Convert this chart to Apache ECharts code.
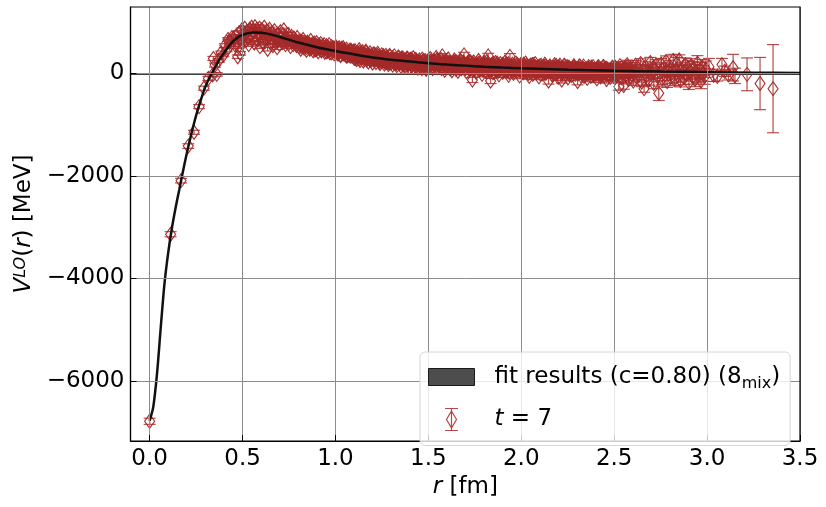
<!DOCTYPE html>
<html>
<head>
<meta charset="utf-8">
<script src="https://cdn.jsdelivr.net/npm/echarts@6/dist/echarts.min.js"></script>
<style>
  html, body { margin: 0; padding: 0; background: #fff; }
  #chart { width: 826px; height: 507px; }
</style>
</head>
<body>
<div id="chart"></div>
<script>
// tick positions
const xTicks = [0, 0.5, 1.0, 1.5, 2.0, 2.5, 3.0, 3.5];
const yTicks = [-6000, -4000, -2000, 0];

// fit curve (r [fm], V [MeV])
const rFit = [0.00, 0.02, 0.04, 0.06, 0.08, 0.10, 0.12, 0.14, 0.16, 0.18, 0.20, 0.22, 0.24, 0.26, 0.28,
  0.30, 0.32, 0.34, 0.36, 0.38, 0.40, 0.42, 0.44, 0.46, 0.48, 0.50, 0.53, 0.56, 0.60, 0.65, 0.70,
  0.75, 0.80, 0.90, 1.00, 1.10, 1.20, 1.30, 1.40, 1.50, 1.60, 1.70, 1.80, 1.90, 2.00, 2.25, 2.50,
  2.75, 3.00, 3.25, 3.50];
const vFit = [-6780, -6500, -5850, -4950, -4100, -3500, -3020, -2620, -2260, -1900, -1560, -1250, -960, -700, -470,
  -260, -100, 40, 170, 290, 400, 500, 590, 660, 715, 750, 780, 795, 790, 760, 710,
  655, 600, 510, 435, 370, 310, 265, 230, 195, 170, 150, 130, 112, 98, 70, 50,
  35, 22, 12, 5];

// t = 7 lattice data: [r, V, error]
const t7Points = [
  [0.000,-6790,60],[0.113,-3140,50],[0.169,-2095,45],[0.208,-1420,45],[0.239,-1150,40],[0.266,-650,40],
  [0.292,-290,40],[0.316,-100,40],[0.339,-30,40],[0.343,290,40],[0.352,160,40],[0.361,-20,35],
  [0.372,250,35],[0.385,400,35],[0.397,357,35],[0.405,540,35],[0.415,455,35],[0.422,660,35],
  [0.429,617,35],[0.436,560,35],[0.443,700,35],[0.450,683,35],[0.474,324,35],
  // 0.45 - 0.8
  [0.458,560,35],[0.463,720,35],[0.470,610,30],[0.477,520,35],[0.481,790,40],[0.487,390,35],
  [0.492,680,30],[0.496,845,40],[0.501,600,35],[0.507,750,30],[0.512,880,40],[0.518,640,35],
  [0.523,812,35],[0.528,700,30],[0.533,560,35],[0.538,860,40],[0.544,760,30],[0.549,900,40],
  [0.553,680,35],[0.558,830,35],[0.563,590,30],[0.567,910,40],[0.572,740,35],[0.577,860,35],
  [0.582,650,30],[0.586,800,35],[0.591,880,40],[0.594,520,35],[0.599,720,30],[0.604,850,35],
  [0.609,620,35],[0.612,585,30],[0.617,900,40],[0.621,760,35],[0.626,690,30],[0.631,820,35],
  [0.635,470,35],[0.640,740,30],[0.645,860,40],[0.649,600,35],[0.654,700,30],[0.658,790,35],
  [0.663,540,35],[0.668,720,30],[0.672,830,35],[0.677,610,35],[0.681,680,30],[0.686,500,35],
  [0.690,770,35],[0.695,640,30],[0.699,560,35],[0.704,812,35],[0.709,690,30],[0.713,600,35],
  [0.718,750,35],[0.722,845,35],[0.727,620,30],[0.731,560,35],[0.736,700,30],[0.740,640,35],
  [0.745,760,35],[0.749,580,30],[0.754,680,35],[0.758,520,35],[0.763,720,30],[0.767,620,35],
  [0.772,560,30],[0.776,690,35],[0.781,600,30],[0.785,650,35],[0.790,540,30],[0.794,700,35],
  [0.799,600,30],
  // 0.8 - 1.5
  [0.804,520,30],[0.808,640,35],[0.813,470,30],[0.817,580,30],[0.822,530,35],[0.826,660,30],
  [0.831,490,30],[0.835,600,35],[0.840,545,30],[0.844,450,30],[0.849,610,35],[0.853,520,30],
  [0.858,570,30],[0.862,470,35],[0.867,640,30],[0.871,500,30],[0.876,560,35],[0.880,440,30],
  [0.885,590,30],[0.889,510,35],[0.894,460,30],[0.898,600,30],[0.903,530,35],[0.907,420,30],
  [0.912,560,30],[0.916,490,35],[0.921,580,30],[0.925,440,30],[0.930,520,35],[0.934,470,30],
  [0.939,560,30],[0.943,410,35],[0.948,500,30],[0.952,540,30],[0.957,430,35],[0.961,490,30],
  [0.966,560,30],[0.970,400,35],[0.975,470,30],[0.979,520,30],[0.984,420,35],[0.988,490,30],
  [0.993,380,30],[0.997,460,35],[1.002,520,30],[1.006,410,30],[1.011,470,35],[1.015,380,30],
  [1.020,500,30],[1.024,430,35],[1.029,360,30],[1.033,470,30],[1.038,410,35],[1.042,500,30],
  [1.047,370,30],[1.051,440,35],[1.056,390,30],[1.060,470,30],[1.065,340,35],[1.069,420,30],
  [1.074,380,30],[1.078,450,35],[1.083,330,30],[1.087,400,30],[1.092,360,35],[1.096,430,30],
  [1.101,290,30],[1.105,440,35],[1.110,360,30],[1.114,270,30],[1.119,410,35],[1.123,330,30],
  [1.128,460,35],[1.132,250,30],[1.137,380,30],[1.141,310,35],[1.146,420,30],[1.150,240,30],
  [1.155,350,35],[1.159,290,30],[1.164,430,35],[1.168,260,30],[1.173,370,30],[1.177,220,35],
  [1.182,330,30],[1.186,400,30],[1.191,250,35],[1.195,310,30],[1.200,200,35],[1.204,380,30],
  [1.209,280,30],[1.213,340,35],[1.218,210,30],[1.222,300,30],[1.227,390,35],[1.231,240,30],
  [1.236,320,30],[1.240,190,35],[1.245,280,30],[1.249,360,30],[1.254,230,35],[1.258,310,30],
  [1.263,180,35],[1.267,270,30],[1.272,350,30],[1.276,210,35],[1.281,300,30],[1.285,170,35],
  [1.290,250,30],[1.294,330,35],[1.299,200,30],[1.303,280,35],[1.308,160,30],[1.312,240,35],
  [1.317,340,35],[1.321,190,30],[1.326,270,35],[1.330,150,35],[1.335,230,30],[1.339,310,35],
  [1.344,180,35],[1.348,260,30],[1.353,140,35],[1.357,220,35],[1.362,300,30],[1.366,170,35],
  [1.371,250,35],[1.375,130,35],[1.380,210,30],[1.384,290,35],[1.389,160,35],[1.393,240,35],
  [1.398,120,35],[1.402,200,35],[1.407,280,35],[1.411,150,35],[1.416,230,35],[1.420,110,40],
  [1.425,190,35],[1.429,270,40],[1.434,140,35],[1.438,220,40],[1.443,100,40],[1.447,180,35],
  [1.452,260,40],[1.456,130,40],[1.461,210,35],[1.465,90,40],[1.470,170,40],[1.474,250,40],
  [1.479,120,40],[1.483,200,40],[1.488,80,40],[1.492,160,40],[1.497,240,40],
  [0.806,590,30],[0.815,520,30],[0.824,610,30],[0.833,540,30],[0.842,500,30],[0.851,580,30],
  [0.860,490,30],[0.869,560,30],[0.878,520,30],[0.887,460,30],[0.896,550,30],[0.905,480,30],
  [0.914,520,30],[0.923,450,30],[0.932,540,30],[0.941,480,30],[0.950,420,30],[0.959,520,30],
  [0.968,460,30],[0.977,400,30],[0.986,500,30],[0.995,430,30],[1.004,470,30],[1.013,400,30],
  [1.022,460,30],[1.031,420,30],[1.040,380,30],[1.049,460,30],[1.058,350,30],[1.067,410,30],
  [1.076,360,30],[1.085,430,30],[1.094,340,30],[1.103,400,30],[1.112,320,30],[1.121,380,30],
  [1.130,290,30],[1.139,350,30],[1.148,310,30],[1.157,380,30],[1.166,290,30],[1.175,340,30],
  [1.184,270,30],[1.193,350,30],[1.202,300,30],[1.211,250,30],[1.220,330,30],[1.229,280,30],
  [1.238,230,35],[1.247,310,35],[1.256,260,35],[1.265,220,35],[1.274,300,35],[1.283,250,35],
  [1.292,200,35],[1.301,290,35],[1.310,220,35],[1.319,270,35],[1.328,190,35],[1.337,260,35],
  [1.346,210,35],[1.355,280,35],[1.364,200,35],[1.373,160,35],[1.382,250,35],[1.391,190,35],
  [1.400,260,35],[1.409,170,35],[1.418,230,35],[1.427,150,35],[1.436,250,35],[1.445,170,35],
  [1.454,210,40],[1.463,140,40],[1.472,230,40],[1.481,160,40],[1.490,210,40],[1.499,130,40],
  [1.003,493,35],[1.011,378,35],[1.019,453,35],[1.027,347,35],[1.035,492,35],[1.043,387,35],
  [1.051,442,35],[1.059,337,35],[1.067,401,35],[1.075,346,35],[1.083,451,35],[1.091,346,35],
  [1.099,421,35],[1.107,286,35],[1.115,381,35],[1.123,346,35],[1.131,411,35],[1.139,297,35],
  [1.147,372,35],[1.155,267,35],[1.163,412,35],[1.171,307,35],[1.179,363,35],[1.187,258,35],
  [1.195,323,35],[1.203,269,35],[1.211,375,35],[1.219,271,35],[1.227,348,35],[1.235,214,35],
  [1.243,311,35],[1.251,277,35],[1.259,343,35],[1.267,230,35],[1.275,306,35],[1.283,203,35],
  [1.291,349,35],[1.299,245,35],[1.307,303,35],[1.315,200,35],[1.323,267,35],[1.331,214,35],
  [1.339,321,35],[1.347,219,35],[1.355,296,35],[1.363,163,35],[1.371,260,35],[1.379,227,35],
  [1.387,295,35],[1.395,182,35],[1.403,259,35],[1.411,156,35],[1.419,303,35],[1.427,201,35],
  [1.435,258,35],[1.443,155,35],[1.451,222,35],[1.459,169,35],[1.467,277,35],[1.475,174,35],
  [1.483,251,35],[1.491,118,35],[1.499,215,35],
  // 1.5 - 2.5
  [1.503,150,40],[1.510,290,45],[1.516,210,40],[1.523,90,40],[1.529,250,45],[1.536,170,40],
  [1.542,310,45],[1.549,110,40],[1.555,230,40],[1.562,140,45],[1.568,270,40],[1.575,340,45],
  [1.581,190,40],[1.588,60,45],[1.594,240,40],[1.601,150,40],[1.607,280,45],[1.614,100,40],
  [1.620,210,45],[1.627,50,40],[1.633,180,40],[1.640,260,45],[1.646,120,40],[1.653,220,45],
  [1.659,40,40],[1.666,160,45],[1.672,250,40],[1.679,90,45],[1.685,200,40],[1.692,360,50],
  [1.698,130,45],[1.705,30,45],[1.711,190,40],[1.718,240,45],[1.724,80,45],[1.731,170,40],
  [1.737,-130,50],[1.744,220,45],[1.750,110,45],[1.757,20,45],[1.763,180,45],[1.770,250,45],
  [1.776,70,45],[1.783,150,45],[1.789,-20,50],[1.796,200,45],[1.802,120,45],[1.809,40,50],
  [1.815,230,45],[1.822,340,50],[1.828,90,45],[1.835,-150,50],[1.841,170,45],[1.848,10,50],
  [1.854,130,45],[1.861,210,50],[1.867,50,45],[1.874,150,50],[1.880,-30,50],[1.887,190,45],
  [1.893,100,50],[1.900,20,50],[1.906,160,45],[1.913,220,50],[1.919,60,50],[1.926,130,45],
  [1.932,-40,50],[1.939,330,55],[1.945,90,50],[1.952,180,50],[1.958,0,50],[1.965,120,50],
  [1.971,200,55],[1.978,40,50],[1.984,140,50],[1.991,-50,55],[1.997,170,50],[2.004,80,50],
  [2.010,10,55],[2.017,150,50],[2.023,200,55],[2.030,30,50],[2.036,110,55],[2.043,-60,55],
  [2.049,160,50],[2.056,70,55],[2.062,-20,55],[2.069,130,50],[2.075,190,55],[2.082,20,55],
  [2.088,100,50],[2.095,-70,55],[2.101,150,55],[2.108,60,50],[2.114,-10,55],[2.121,120,55],
  [2.127,180,55],[2.134,10,55],[2.140,90,55],[2.147,-150,60],[2.153,140,55],[2.160,50,55],
  [2.166,-30,60],[2.173,110,55],[2.179,170,60],[2.186,0,55],[2.192,80,55],[2.199,-80,60],
  [2.205,130,55],[2.212,40,60],[2.218,-130,60],[2.225,100,55],[2.231,160,60],[2.238,-10,60],
  [2.244,70,55],[2.251,-90,60],[2.257,120,60],[2.264,30,60],[2.270,-40,60],[2.277,90,60],
  [2.283,150,60],[2.290,-20,60],[2.296,60,60],[2.303,-160,65],[2.309,110,60],[2.316,20,60],
  [2.322,-50,65],[2.329,80,60],[2.335,140,65],[2.342,-30,60],[2.348,50,65],[2.355,-100,65],
  [2.361,100,60],[2.368,10,65],[2.374,-60,65],[2.381,70,65],[2.387,130,65],[2.394,-40,65],
  [2.400,40,65],[2.407,-110,70],[2.413,90,65],[2.420,0,70],[2.426,-70,65],[2.433,60,70],
  [2.439,120,70],[2.446,-50,70],[2.452,30,70],[2.459,-120,70],[2.465,80,70],[2.472,-10,70],
  [2.478,-80,75],[2.485,50,70],[2.491,110,75],[2.498,-60,75],
  [1.506,220,40],[1.519,130,40],[1.532,200,40],[1.545,260,45],[1.558,160,40],[1.571,90,45],
  [1.584,230,40],[1.597,170,45],[1.610,200,40],[1.623,120,45],[1.636,220,40],[1.649,80,45],
  [1.662,190,45],[1.675,140,45],[1.688,220,45],[1.701,100,45],[1.714,160,45],[1.727,220,45],
  [1.740,60,45],[1.753,170,45],[1.766,120,45],[1.779,200,45],[1.792,80,50],[1.805,150,50],
  [1.818,190,50],[1.831,30,50],[1.844,140,50],[1.857,90,50],[1.870,200,50],[1.883,60,50],
  [1.896,150,50],[1.909,100,50],[1.922,180,50],[1.935,20,50],[1.948,130,50],[1.961,70,50],
  [1.974,160,55],[1.987,100,55],[2.000,40,55],[2.013,180,55],[2.026,90,55],[2.039,0,55],
  [2.052,120,55],[2.065,170,55],[2.078,60,55],[2.091,130,55],[2.104,-20,55],[2.117,90,55],
  [2.130,150,55],[2.143,40,55],[2.156,100,60],[2.169,-40,60],[2.182,130,60],[2.195,60,60],
  [2.208,160,60],[2.221,10,60],[2.234,80,60],[2.247,130,60],[2.260,-30,60],[2.273,60,60],
  [2.286,110,60],[2.299,0,60],[2.312,140,65],[2.325,40,65],[2.338,-60,65],[2.351,90,65],
  [2.364,20,65],[2.377,120,65],[2.390,-20,65],[2.403,80,65],[2.416,130,70],[2.429,-40,70],
  [2.442,50,70],[2.455,100,70],[2.468,-20,70],[2.481,70,70],[2.494,10,70],
  [1.507,183,45],[1.515,251,45],[1.523,139,45],[1.531,217,45],[1.539,115,45],[1.547,263,45],
  [1.555,161,45],[1.563,219,45],[1.571,117,45],[1.579,185,45],[1.587,133,45],[1.595,241,45],
  [1.603,139,45],[1.611,218,45],[1.619,86,45],[1.627,185,45],[1.635,153,45],[1.643,221,45],
  [1.651,110,45],[1.659,188,45],[1.667,87,45],[1.675,235,45],[1.683,133,45],[1.691,192,45],
  [1.699,90,45],[1.707,159,45],[1.715,107,45],[1.723,215,45],[1.731,114,45],[1.739,192,45],
  [1.747,61,45],[1.755,159,45],[1.763,127,45],[1.771,196,45],[1.779,84,45],[1.787,163,45],
  [1.795,61,45],[1.803,209,45],[1.811,108,45],[1.819,167,45],[1.827,65,45],[1.835,134,45],
  [1.843,82,45],[1.851,191,45],[1.859,89,45],[1.867,168,45],[1.875,36,45],[1.883,135,45],
  [1.891,104,45],[1.899,172,45],[1.907,61,45],[1.915,140,45],[1.923,39,45],[1.931,188,45],
  [1.939,87,45],[1.947,145,45],[1.955,44,45],[1.963,113,45],[1.971,62,45],[1.979,171,45],
  [1.987,70,45],[1.995,149,45],[2.003,18,60],[2.011,117,60],[2.019,86,60],[2.027,155,60],
  [2.035,44,60],[2.043,123,60],[2.051,22,60],[2.059,171,60],[2.067,70,60],[2.075,129,60],
  [2.083,28,60],[2.091,97,60],[2.099,46,60],[2.107,155,60],[2.115,54,60],[2.123,134,60],
  [2.131,3,60],[2.139,102,60],[2.147,71,60],[2.155,140,60],[2.163,29,60],[2.171,108,60],
  [2.179,7,60],[2.187,156,60],[2.195,55,60],[2.203,115,60],[2.211,14,60],[2.219,83,60],
  [2.227,32,60],[2.235,141,60],[2.243,41,60],[2.251,120,60],[2.259,-11,60],[2.267,89,60],
  [2.275,58,60],[2.283,127,60],[2.291,17,60],[2.299,96,60],[2.307,-5,60],[2.315,145,60],
  [2.323,44,60],[2.331,103,60],[2.339,3,60],[2.347,72,60],[2.355,21,60],[2.363,131,60],
  [2.371,30,60],[2.379,109,60],[2.387,-21,60],[2.395,78,60],[2.403,47,60],[2.411,117,60],
  [2.419,6,60],[2.427,85,60],[2.435,-15,60],[2.443,134,60],[2.451,34,60],[2.459,93,60],
  [2.467,-8,60],[2.475,62,60],[2.483,11,60],[2.491,121,60],[2.499,20,60],[2.507,100,70],
  [2.515,-31,70],[2.523,69,70],[2.531,38,70],[2.539,108,70],[2.547,-3,70],[2.555,77,70],
  [2.563,-24,70],[2.571,126,70],[2.579,25,70],[2.587,85,70],[2.595,-16,70],
  // 2.5 - 3.0
  [2.505,120,80],[2.512,-40,75],[2.518,60,80],[2.525,-260,70],[2.531,150,80],[2.538,-90,80],
  [2.544,30,80],[2.551,-240,70],[2.557,100,85],[2.564,-20,80],[2.570,170,85],[2.577,-120,85],
  [2.583,50,85],[2.590,-60,85],[2.596,120,90],[2.603,-150,85],[2.609,20,90],[2.616,160,90],
  [2.622,-80,90],[2.629,80,90],[2.635,-30,90],[2.642,190,95],[2.648,-170,90],[2.655,60,95],
  [2.661,-300,70],[2.668,130,95],[2.674,-50,95],[2.681,40,95],[2.687,-130,100],[2.694,210,100],
  [2.700,-10,100],[2.707,100,100],[2.713,-200,100],[2.720,70,100],[2.726,160,105],[2.733,-60,105],
  [2.740,-390,140],[2.746,20,105],[2.753,180,110],[2.759,-110,110],[2.766,90,110],[2.772,-30,110],
  [2.779,230,110],[2.785,-160,115],[2.792,50,115],[2.798,140,115],[2.805,-80,115],[2.811,10,120],
  [2.818,250,120],[2.824,-120,120],[2.831,60,120],[2.837,190,120],[2.844,-50,125],[2.850,260,100],
  [2.857,-140,125],[2.863,80,125],[2.870,20,130],[2.876,-90,130],[2.883,170,130],[2.889,-20,130],
  [2.896,110,135],[2.902,-180,135],[2.909,40,135],[2.915,150,135],[2.922,-70,140],[2.928,90,140],
  [2.935,-120,140],[2.941,30,145],[2.948,200,145],[2.954,-40,145],[2.961,60,150],[2.967,-150,150],
  [2.974,120,150],[2.980,0,155],[2.987,-60,155],[2.993,80,160],
  // r > 3.0
  [3.010,130,160],[3.035,-40,120],[3.055,-60,90],[3.080,170,120],[3.095,40,100],[3.115,-30,100],
  [3.140,110,260],[3.150,-50,150],[3.215,-20,320],[3.285,-200,510],[3.355,-300,860]
];

const brown = '#a52a2a';
const errColor = 'rgba(170,45,45,0.85)';
const font = 'DejaVu Sans';
const minus = v => String(v).replace('-', '\u2212');

const fitData = rFit.map((r, i) => [r, vFit[i]]);
const pointData = t7Points.map(p => [p[0], p[1]]);
const errData = t7Points.map(p => [p[0], p[1] - p[2], p[1] + p[2]]);

function renderErr(params, api) {
  const x = api.value(0);
  const lo = api.coord([x, api.value(1)]);
  const hi = api.coord([x, api.value(2)]);
  const w = 6;
  const st = { stroke: errColor, lineWidth: 1.2, fill: null };
  return {
    type: 'group',
    children: [
      { type: 'line', shape: { x1: lo[0], y1: lo[1], x2: hi[0], y2: hi[1] }, style: st },
      { type: 'line', shape: { x1: lo[0] - w, y1: lo[1], x2: lo[0] + w, y2: lo[1] }, style: st },
      { type: 'line', shape: { x1: hi[0] - w, y1: hi[1], x2: hi[0] + w, y2: hi[1] }, style: st }
    ]
  };
}

const tickRich = { t: { fontFamily: font, fontSize: 23, color: '#000' } };

const chart = echarts.init(document.getElementById('chart'), null, { renderer: 'canvas' });

const option = {
  animation: false,
  backgroundColor: '#fff',
  textStyle: { fontFamily: font },
  grid: {
    left: 130.5, right: 26, top: 7, bottom: 66,
    show: true, borderColor: '#000', borderWidth: 1.2, z: 6
  },
  legend: {
    orient: 'vertical',
    left: 420, top: 352,
    padding: [10, 10, 11, 8],
    itemWidth: 46, itemHeight: 22, itemGap: 12.5,
    backgroundColor: 'rgba(255,255,255,0.8)',
    borderColor: '#d6d6d6', borderWidth: 1, borderRadius: 5,
    z: 10,
    selectedMode: false,
    data: [
      { name: 'fit', icon: 'path://M0,0H46V17H0Z',
        itemStyle: { color: '#4d4d4d', borderColor: '#1a1a1a', borderWidth: 1 } },
      { name: 't7', icon: 'path://M-6.5,-11H6.5M0,-11V11M-6.5,11H6.5M0,-8.5L5,0L0,8.5L-5,0Z',
        itemStyle: { color: 'rgba(0,0,0,0)', borderColor: '#b5474a', borderWidth: 1.2 } }
    ],
    formatter: name => name === 'fit'
      ? 'fit results (c=0.80) (8{s|mix})'
      : '{i|t} = 7',
    textStyle: {
      fontFamily: font, fontSize: 23, color: '#000', lineHeight: 30,
      padding: [0, 0, 0, 15],
      rich: {
        s: { fontFamily: font, fontSize: 16, verticalAlign: 'bottom', lineHeight: 16 },
        i: { fontFamily: font, fontSize: 23, fontStyle: 'italic' }
      }
    }
  },
  xAxis: {
    type: 'value',
    min: -0.103, max: 3.5,
    z: 5,
    name: '{i|r} [fm]',
    nameLocation: 'middle',
    nameGap: 22,
    nameTextStyle: {
      fontFamily: font, fontSize: 23, color: '#000', verticalAlign: 'top',
      rich: { i: { fontFamily: font, fontSize: 23, fontStyle: 'italic' } }
    },
    axisLine: { show: true, onZero: false, lineStyle: { color: '#000', width: 1.2 } },
    axisTick: { show: true, inside: true, length: 6, customValues: xTicks, lineStyle: { color: '#000' } },
    axisLabel: {
      customValues: xTicks, margin: 7,
      fontFamily: font, fontSize: 23, color: '#000',
      formatter: v => '{t|' + v.toFixed(1) + '}',
      rich: tickRich
    },
    splitLine: { show: true, lineStyle: { color: '#8c8c8c', width: 1 } }
  },
  yAxis: {
    type: 'value',
    min: -7175, max: 1294,
    z: 5,
    name: '{i|V}{sup|LO}({i|r}) [MeV]',
    nameLocation: 'middle',
    nameRotate: 90,
    nameGap: 89,
    nameTextStyle: {
      fontFamily: font, fontSize: 23, color: '#000',
      rich: {
        i: { fontFamily: font, fontSize: 23, fontStyle: 'italic' },
        sup: { fontFamily: font, fontSize: 16, fontStyle: 'italic', verticalAlign: 'top', lineHeight: 16 }
      }
    },
    axisLine: { show: true, onZero: false, lineStyle: { color: '#000', width: 1.2 } },
    axisTick: { show: true, inside: true, length: 6, customValues: yTicks, lineStyle: { color: '#000' } },
    axisLabel: {
      customValues: yTicks, margin: 6,
      fontFamily: font, fontSize: 23, color: '#000',
      formatter: v => '{t|' + minus(v) + '}',
      rich: tickRich
    },
    splitLine: { show: true, lineStyle: { color: '#8c8c8c', width: 1 } }
  },
  series: [
    {
      name: 't7err',
      type: 'custom',
      renderItem: renderErr,
      encode: { x: 0, y: [1, 2] },
      data: errData,
      z: 2,
      silent: true
    },
    {
      name: 't7',
      type: 'scatter',
      data: pointData,
      symbol: 'path://M0,-7L5,0L0,7L-5,0Z',
      symbolSize: [10, 14],
      itemStyle: { color: 'rgba(0,0,0,0)', borderColor: brown, borderWidth: 1.1, opacity: 1 },
      z: 3,
      silent: true,
      markLine: {
        silent: true, symbol: 'none', z: 1,
        label: { show: false },
        lineStyle: { color: '#000', width: 1.5, type: 'solid' },
        data: [{ yAxis: 0 }]
      }
    },
    {
      name: 'fit',
      type: 'line',
      data: fitData,
      showSymbol: false,
      symbol: 'none',
      smooth: 0.3,
      lineStyle: { color: '#111', width: 2.5 },
      itemStyle: { color: '#111' },
      z: 4,
      silent: true
    }
  ]
};

chart.setOption(option);
</script>
</body>
</html>
